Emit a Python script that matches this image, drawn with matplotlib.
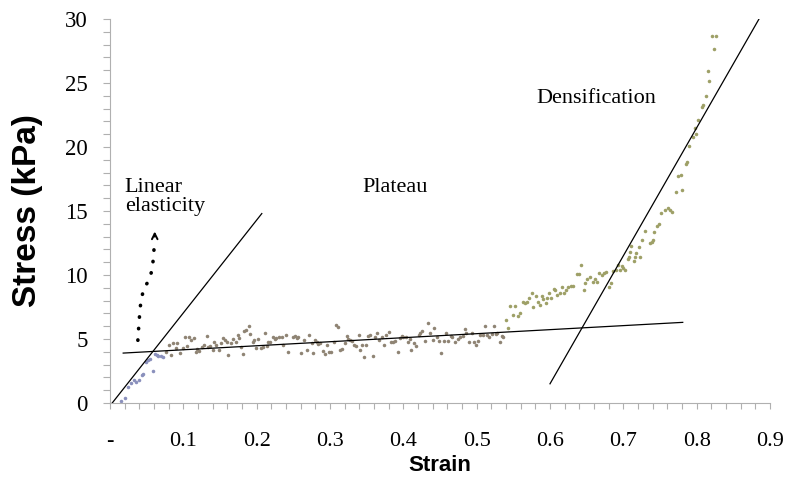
import matplotlib
matplotlib.use("Agg")
import matplotlib.pyplot as plt
from matplotlib.ticker import FixedLocator, MultipleLocator

# ---- data ----
# linear elastic region (blue-grey points)
blue_strain = [0.015, 0.020, 0.025, 0.029, 0.033, 0.036, 0.040, 0.043, 0.045,
               0.049, 0.052, 0.055, 0.058, 0.061, 0.064, 0.066, 0.069, 0.072]
blue_stress = [0.18, 0.37, 1.27, 1.54, 1.80, 1.66, 1.80, 2.19, 2.27,
               3.23, 3.36, 3.41, 2.52, 3.83, 3.75, 3.67, 3.67, 3.62]

# plateau region (grey-brown points)
plateau_strain = [0.076, 0.080, 0.083, 0.086, 0.090, 0.092, 0.096, 0.099, 0.102, 0.105,
                  0.108, 0.111, 0.115, 0.117, 0.119, 0.122, 0.125, 0.128, 0.132, 0.134,
                  0.136, 0.140, 0.142, 0.145, 0.148, 0.151, 0.154, 0.157, 0.160, 0.161,
                  0.165, 0.168, 0.172, 0.174, 0.176, 0.178, 0.181, 0.183, 0.186, 0.189,
                  0.191, 0.195, 0.196, 0.199, 0.202, 0.206, 0.209, 0.211, 0.214, 0.216,
                  0.218, 0.222, 0.225, 0.227, 0.231, 0.234, 0.236, 0.240, 0.243,
                  0.250, 0.252, 0.255, 0.257, 0.261, 0.264, 0.268, 0.272, 0.275, 0.277,
                  0.280, 0.282, 0.284, 0.286, 0.290, 0.293, 0.296, 0.298, 0.302, 0.305,
                  0.308, 0.311, 0.314, 0.317, 0.321, 0.323, 0.325, 0.327, 0.330, 0.333,
                  0.336, 0.339, 0.341, 0.343, 0.346, 0.349, 0.352, 0.355, 0.358, 0.361,
                  0.364, 0.367, 0.371, 0.374, 0.376, 0.380, 0.383, 0.386, 0.389, 0.393,
                  0.396, 0.398, 0.400, 0.404, 0.407, 0.409, 0.411, 0.414, 0.417, 0.421,
                  0.423, 0.426, 0.430, 0.433, 0.436, 0.440, 0.442, 0.446, 0.449, 0.452,
                  0.455, 0.458, 0.461, 0.465, 0.467, 0.471, 0.474, 0.477, 0.481, 0.484,
                  0.486, 0.490, 0.493, 0.496, 0.499, 0.502, 0.505, 0.508, 0.511, 0.514,
                  0.517, 0.521, 0.524, 0.526, 0.528, 0.532, 0.534, 0.536]
plateau_stress = [4.01, 4.53, 3.75, 4.71, 4.27, 4.71, 3.93, 4.27, 5.18, 4.45,
                  5.13, 4.92, 5.05, 4.01, 4.19, 4.09, 4.40, 4.53, 5.23, 4.40,
                  4.45, 4.14, 4.79, 4.53, 4.14, 4.66, 5.05, 4.92, 4.79, 3.75,
                  4.66, 4.97, 4.79, 5.31, 5.05, 4.40, 3.85, 5.65, 5.70, 6.02,
                  5.39, 4.79, 4.92, 4.27, 4.97, 4.27, 4.40, 5.49, 4.45, 4.79,
                  4.79, 5.13, 4.97, 5.05, 5.13, 5.18, 4.53, 5.31, 4.01,
                  5.13, 5.23, 5.05, 5.18, 3.93, 4.92, 4.14, 5.31, 4.66, 3.93,
                  4.92, 4.79, 4.61, 4.71, 4.09, 3.83, 4.53, 4.01, 4.01, 4.79,
                  6.09, 5.91, 4.14, 4.19, 4.66, 5.23, 4.97, 4.92, 4.87, 4.53,
                  4.45, 5.31, 4.14, 4.53, 3.62, 4.53, 5.23, 5.31, 3.67, 5.13,
                  5.49, 4.92, 5.13, 4.53, 5.31, 5.52, 4.79, 4.79, 4.84, 4.01,
                  5.05, 5.23, 5.18, 5.13, 4.79, 4.97, 4.14, 4.66, 4.45, 5.31,
                  5.44, 5.65, 4.87, 6.27, 5.49, 4.92, 5.83, 5.18, 4.87, 3.88,
                  4.87, 5.49, 4.87, 5.23, 5.13, 4.79, 4.97, 5.13, 5.23, 5.76,
                  5.44, 4.79, 5.44, 4.79, 4.53, 4.87, 5.31, 5.31, 6.02, 5.31,
                  5.18, 5.39, 6.02, 5.39, 5.44, 4.79, 5.23, 5.13]

# densification region (olive points)
dens_strain = [0.540, 0.543, 0.546, 0.549, 0.552, 0.556, 0.559, 0.563, 0.566, 0.569,
               0.571, 0.575, 0.577, 0.581, 0.584, 0.586, 0.589, 0.591, 0.595, 0.596,
               0.599, 0.602, 0.605, 0.607, 0.610, 0.613, 0.616, 0.619, 0.622, 0.625,
               0.628, 0.631, 0.637, 0.640, 0.642, 0.646, 0.648, 0.651, 0.655, 0.658,
               0.661, 0.664, 0.667, 0.671, 0.674, 0.676, 0.680, 0.683, 0.686, 0.690,
               0.693, 0.696, 0.698, 0.700, 0.702, 0.706, 0.708, 0.709, 0.711, 0.714,
               0.716, 0.717, 0.721, 0.723, 0.726, 0.730, 0.736, 0.739, 0.741, 0.742,
               0.746, 0.749, 0.752, 0.757, 0.761, 0.764, 0.766, 0.772, 0.775, 0.778,
               0.780, 0.786, 0.787, 0.790, 0.795, 0.798, 0.799, 0.802, 0.807, 0.809,
               0.813, 0.815, 0.817, 0.821, 0.824, 0.827]
dens_stress = [6.48, 5.83, 7.58, 6.88, 7.58, 6.80, 7.00, 7.92, 7.84, 7.92,
               8.18, 8.62, 7.52, 8.36, 7.90, 7.66, 8.36, 8.10, 7.84, 8.18,
               8.57, 8.18, 8.88, 8.83, 8.44, 8.57, 9.04, 8.62, 8.83, 9.09,
               9.14, 9.14, 10.08, 10.08, 10.78, 8.83, 9.35, 9.66, 9.87, 9.48,
               9.66, 9.48, 10.13, 10.00, 10.16, 10.20, 9.09, 9.40, 10.34, 10.40,
               10.78, 10.40, 10.70, 10.52, 10.40, 11.22, 11.43, 11.82, 12.27, 11.10,
               11.43, 11.70, 12.16, 11.38, 12.73, 13.46, 12.47, 12.60, 12.73, 13.38,
               13.83, 13.98, 14.87, 15.08, 15.21, 15.08, 14.95, 16.51, 17.73, 17.81,
               16.64, 18.67, 18.85, 20.08, 20.76, 21.46, 21.02, 22.11, 23.10, 23.28,
               23.98, 25.96, 25.18, 28.70, 27.63, 28.70]

# fitted straight lines (end points)
elastic_fit_strain = [0.003, 0.207]
elastic_fit_stress = [0.0, 14.8]
plateau_fit_strain = [0.018, 0.781]
plateau_fit_stress = [3.9, 6.3]
dens_fit_strain = [0.600, 0.885]
dens_fit_stress = [1.5, 30.0]

# dotted arrow pointing at the "Linear elasticity" label
arrow_strain = [0.038, 0.039, 0.040, 0.041, 0.043, 0.046, 0.051, 0.055, 0.058, 0.059, 0.060, 0.061]
arrow_stress = [4.9, 5.8, 6.6, 7.4, 8.2, 8.9, 9.4, 9.9, 10.6, 11.3, 12.0, 12.6]

x_ticks = [0, 0.1, 0.2, 0.3, 0.4, 0.5, 0.6, 0.7, 0.8, 0.9]
x_tick_labels = ['-', '0.1', '0.2', '0.3', '0.4', '0.5', '0.6', '0.7', '0.8', '0.9']
y_ticks = [0, 5, 10, 15, 20, 25, 30]

serif = 'Liberation Serif'
sans = 'Liberation Sans'

fig = plt.figure(figsize=(7.85, 4.88), dpi=100)
ax = fig.add_axes([110 / 785, 85 / 488, 660 / 785, 384 / 488])

ax.scatter(blue_strain, blue_stress, s=6.5, color='#8a90bc', linewidths=0, zorder=2)
ax.scatter(plateau_strain, plateau_stress, s=6.5, color='#8f8474', linewidths=0, zorder=2)
ax.scatter(dens_strain, dens_stress, s=6.5, color='#9ea067', linewidths=0, zorder=2)

ax.plot(elastic_fit_strain, elastic_fit_stress, color='black', lw=0.9, zorder=3)
ax.plot(plateau_fit_strain, plateau_fit_stress, color='black', lw=0.9, zorder=3)
ax.plot(dens_fit_strain, dens_fit_stress, color='black', lw=0.9, zorder=3)

ax.plot(arrow_strain, arrow_stress, color='black', lw=2.6,
        linestyle=(0, (0.1, 3.1)), dash_capstyle='round', zorder=3)
ax.annotate('', xy=(arrow_strain[-1], 13.4), xytext=(arrow_strain[-1], 13.0),
            arrowprops=dict(arrowstyle='->', lw=1.4, color='black',
                            mutation_scale=10, shrinkA=0, shrinkB=0))

ax.text(0.02, 17.6, 'Linear\nelasticity', family=serif, fontsize=16,
        va='top', ha='left', linespacing=1.05)
ax.text(0.344, 16.5, 'Plateau', family=serif, fontsize=16, va='baseline', ha='left')
ax.text(0.581, 23.4, 'Densification', family=serif, fontsize=16, va='baseline', ha='left')

ax.set_xlim(0, 0.9)
ax.set_ylim(0, 30)

ax.xaxis.set_major_locator(FixedLocator(x_ticks))
ax.set_xticklabels(x_tick_labels, family=serif, fontsize=16)
ax.xaxis.set_minor_locator(MultipleLocator(0.02))
ax.yaxis.set_major_locator(FixedLocator(y_ticks))
ax.set_yticklabels([str(v) for v in y_ticks], family=serif, fontsize=16.5)
ax.yaxis.set_minor_locator(MultipleLocator(1))

ax.tick_params(axis='x', which='both', direction='out', length=4, width=0.8,
               color='#b0b0b0', pad=17)
ax.tick_params(axis='y', which='both', direction='out', length=5, width=0.8,
               color='#b0b0b0', pad=11)

for side in ['top', 'right']:
    ax.spines[side].set_visible(False)
for side in ['left', 'bottom']:
    ax.spines[side].set_color('#b0b0b0')
    ax.spines[side].set_linewidth(0.8)

ax.set_xlabel('Strain', family=sans, fontsize=16, fontweight='bold', labelpad=3)
ax.set_ylabel('Stress (kPa)', family=sans, fontsize=24, fontweight='bold', labelpad=16)

fig.savefig('out.png', dpi=100)
